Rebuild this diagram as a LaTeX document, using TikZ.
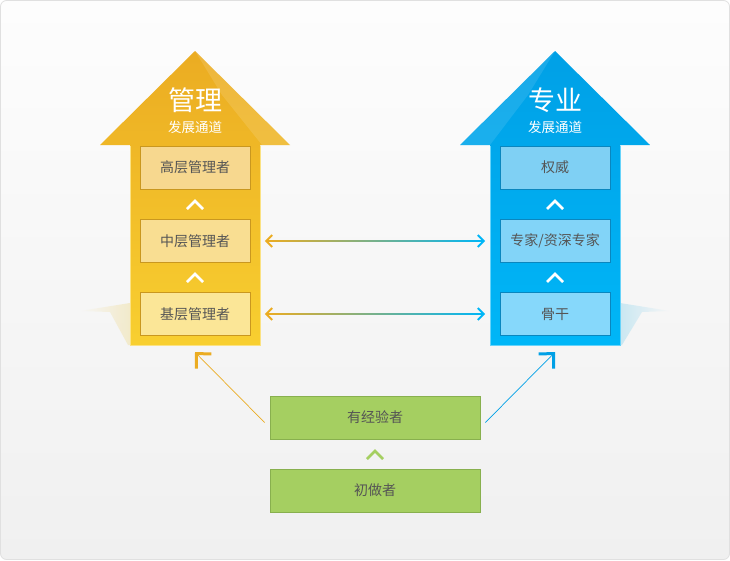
\documentclass[tikz,border=0pt]{standalone}
\usepackage{fontspec}
\setmainfont{Noto Sans CJK SC}
\usetikzlibrary{arrows.meta,calc}
\definecolor{orgA}{HTML}{EBAC22}
\definecolor{orgB}{HTML}{F8CF30}
\definecolor{orgBox}{HTML}{F7D88F}
\definecolor{orgBoxB}{HTML}{FBE697}
\definecolor{orgEdge}{HTML}{C9971F}
\definecolor{bluA}{HTML}{00A0E6}
\definecolor{bluB}{HTML}{00B6F7}
\definecolor{bluBox}{HTML}{7FD0F4}
\definecolor{bluBoxB}{HTML}{86D8FB}
\definecolor{bluEdge}{HTML}{0A86BE}
\definecolor{grnBox}{HTML}{A5CF61}
\definecolor{grnEdge}{HTML}{88B04E}
\definecolor{txt}{HTML}{555555}
\definecolor{bgA}{HTML}{FDFDFD}
\definecolor{bgB}{HTML}{F0F0F0}
\tikzset{
  lvl/.style={draw=#1, line width=0.8pt, minimum width=110pt, minimum height=43pt, inner sep=0pt, text=txt, font=\fontsize{14}{14}\selectfont},
  gbox/.style={draw=grnEdge, fill=grnBox, line width=0.8pt, minimum width=210pt, minimum height=43pt, inner sep=0pt, text=txt, font=\fontsize{14}{14}\selectfont},
  chev/.style={draw=white, line width=2.6pt, line join=miter, line cap=butt},
  shaftnode/.style={draw=none, minimum width=130pt, minimum height=200pt, inner sep=0pt},
  bigtitle/.style={text=white, font=\fontsize{27}{27}\selectfont},
  subtitle/.style={text=white, font=\fontsize{13.5}{14}\selectfont},
  diag/.style={line width=0.7pt, -{Straight Barb[length=10.6pt,width=21.2pt,line width=3pt,sharp]}},
}
\begin{document}
\begin{tikzpicture}[x=1pt,y=-1pt]
% background
\useasboundingbox (0,0) rectangle (730,560);
\shade[top color=bgA, bottom color=bgB, draw=black!12, rounded corners=6pt, line width=0.8pt] (0.5,0.5) rectangle (729.5,559.5);
% floor glows
\shade[left color=bgB!60!white, right color=orgB!22!bgB, opacity=0.9] (80,311) -- (130,303) -- (130,345) -- (128,345) -- (110,312) -- cycle;
\shade[left color=bluB!18!bgB, right color=bgB!60!white, opacity=0.9] (620,303) -- (670,311) -- (642,312) -- (622,345) -- (620,345) -- cycle;

% left arrow (management)
\shade[top color=orgA, bottom color=orgB] (195,51) -- (290,145) -- (260,145) -- (260,345) -- (130,345) -- (130,145) -- (100,145) -- cycle;
\fill[white, opacity=0.12] (195,51) -- (290,145) -- (262,145) -- (222,95) -- cycle;
\draw[orgB!60!white, line width=0.8pt] (260,146) -- (260,345) -- (130,345) -- (130,146);
\node[shaftnode] (lshaft) at (195,245) {};
\node[bigtitle] (ltitle) at (195,100) {管理};
\node[subtitle] (lsub) at (195,127) {发展通道};
\node[lvl=orgEdge, fill=orgBox] (m3) at (195,167.5) {高层管理者};
\node[lvl=orgEdge, fill=orgBox!60!orgBoxB] (m2) at (195,241) {中层管理者};
\node[lvl=orgEdge, fill=orgBoxB] (m1) at (195,314) {基层管理者};
\draw[chev] (187,209) -- (195,201) -- (203,209);
\draw[chev] (187,282) -- (195,274) -- (203,282);

% right arrow (professional)
\shade[top color=bluA, bottom color=bluB] (555,51) -- (650,145) -- (620,145) -- (620,345) -- (490,345) -- (490,145) -- (460,145) -- cycle;
\fill[white, opacity=0.10] (555,51) -- (460,145) -- (490,145) -- (528,95) -- cycle;
\draw[bluB!60!white, line width=0.8pt] (620,146) -- (620,345) -- (490,345) -- (490,146);
\node[shaftnode] (rshaft) at (555,245) {};
\node[bigtitle] (rtitle) at (555,100) {专业};
\node[subtitle] (rsub) at (555,127) {发展通道};
\node[lvl=bluEdge, fill=bluBox] (s3) at (555,167.5) {权威};
\node[lvl=bluEdge, fill=bluBox!50!bluBoxB] (s2) at (555,241) {专家/资深专家};
\node[lvl=bluEdge, fill=bluBoxB] (s1) at (555,314) {骨干};
\draw[chev] (547,209) -- (555,201) -- (563,209);
\draw[chev] (547,282) -- (555,274) -- (563,282);

% horizontal links
\foreach \a/\b in {m2/s2, m1/s1}{
  \coordinate (L) at ($(lshaft.east |- \a)+(6,0)$);
  \coordinate (R) at ($(rshaft.west |- \b)+(-6,0)$);
  \shade[left color=orgA, right color=bluB] ($(L)+(1,-0.6)$) rectangle ($(R)+(-1,0.6)$);
  \draw[orgA, line width=2pt, line join=miter] ($(L)+(6,-6)$) -- (L) -- ($(L)+(6,6)$);
  \draw[bluB, line width=2pt, line join=miter] ($(R)+(-6,-6)$) -- (R) -- ($(R)+(-6,6)$);
}

% green boxes
\node[gbox] (exp) at (375,417.5) {有经验者};
\node[gbox] (nov) at (375,490.5) {初做者};
\draw[draw=grnBox, line width=2.6pt, line join=miter] (367,459) -- (375,451) -- (383,459);

% diagonal links
\draw[diag, draw=orgA] ($(exp.west)+(-5,5)$) -- ($(lshaft.south)+(0,7)$);
\draw[diag, draw=bluA] ($(exp.east)+(5,5)$) -- ($(rshaft.south)+(0,7)$);
\end{tikzpicture}
\end{document}
